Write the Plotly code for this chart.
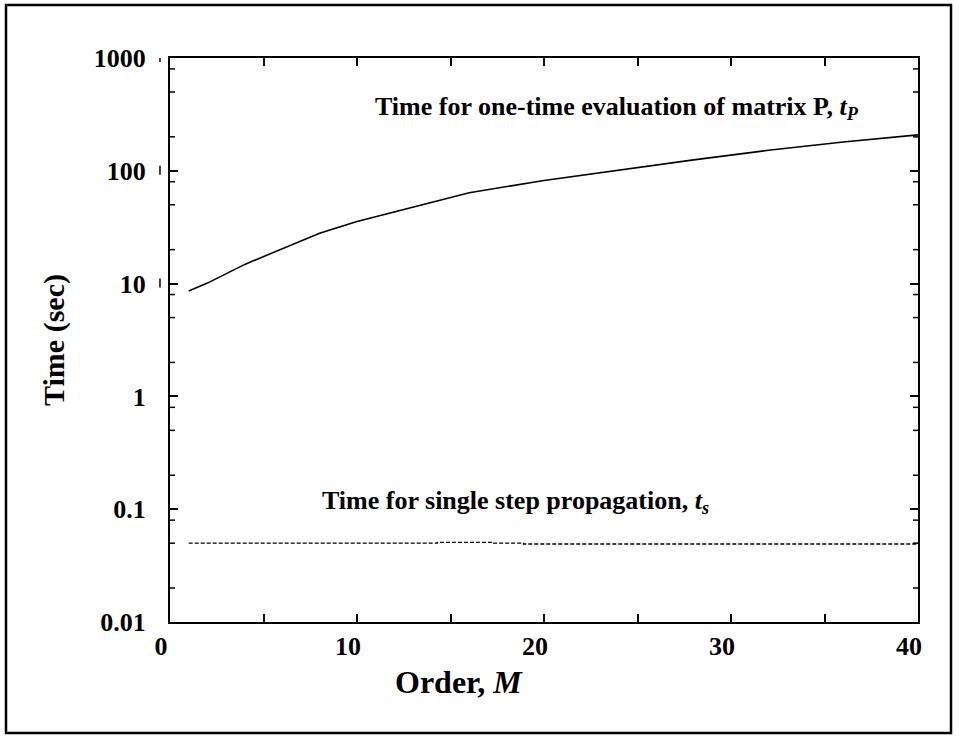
import numpy as np
import plotly.graph_objects as go

# Expansion order M
order_p = [1, 2, 4, 6, 8, 10, 12, 16, 20, 24, 28, 32, 36, 40]
# Time for one-time evaluation of matrix P (sec)
time_p = [8.6, 10.1, 14.8, 20.5, 28.0, 35.5, 43.0, 64.0, 82.0, 102.0, 125.0, 152.0, 180.0, 208.0]

# Time for a single propagation step (sec)
order_s = [1, 14.3, 17.3, 18.9, 40]
time_s = [0.0500, 0.0508, 0.0500, 0.0491, 0.0491]

y_tick_vals = [0.01, 0.1, 1, 10, 100, 1000]
y_tick_text = ["0.01", "0.1", "1", "10", "100", "1000"]
x_tick_vals = [0, 5, 10, 15, 20, 25, 30, 35, 40]
x_tick_text = ["0", "", "10", "", "20", "", "30", "", "40"]

FONT = "Liberation Serif, Times New Roman, serif"

fig = go.Figure()
fig.add_trace(go.Scatter(x=order_p, y=time_p, mode="lines",
                         line=dict(color="black", width=1.6), showlegend=False))
fig.add_trace(go.Scatter(x=order_s, y=time_s, mode="lines", line_shape="hv",
                         line=dict(color="black", width=1.4, dash="4px,2px"),
                         showlegend=False))

fig.update_xaxes(
    range=[0, 40], tickvals=x_tick_vals, ticktext=x_tick_text,
    ticks="inside", ticklen=8, tickwidth=1.5,
    tickcolor="black", showline=True, linecolor="black", linewidth=2, mirror="ticks",
    showgrid=False, zeroline=False,
    tickfont=dict(family=FONT, size=26, color="black", weight="bold"),
    ticklabelshift=-9, ticklabelstandoff=0,
)
fig.update_yaxes(
    type="log", range=[-2, 3], tickvals=y_tick_vals, ticktext=y_tick_text,
    ticks="inside", ticklen=8, tickwidth=1.5, tickcolor="black",
    showline=True, linecolor="black", linewidth=2, mirror="ticks",
    showgrid=False, zeroline=False,
    tickfont=dict(family=FONT, size=26, color="black", weight="bold"),
    ticklabelstandoff=17,
    title=dict(text="<b>Time (sec)</b>", font=dict(family=FONT, size=30, color="black"),
               standoff=20),
)

# minor log ticks at 2, 5 and 8 of every decade, on both sides of the box
minor_y = [m * 10.0 ** e for e in range(-2, 3) for m in (2, 5, 8)]
for v in minor_y:
    for x0, x1 in ((0, 5 / 748), (1 - 5 / 748, 1)):
        fig.add_shape(type="line", xref="paper", yref="y", x0=x0, x1=x1, y0=v, y1=v,
                      line=dict(color="black", width=1.5))

fig.add_annotation(x=10.85, y=np.log10(360), xanchor="left", yanchor="middle",
                   text="<b>Time for one-time evaluation of matrix P, <i>t<sub>P</sub></i></b>",
                   showarrow=False, font=dict(family=FONT, size=26, color="black"))
fig.add_annotation(x=8.0, y=np.log10(0.116), xanchor="left", yanchor="middle",
                   text="<b>Time for single step propagation, <i>t<sub>s</sub></i></b>",
                   showarrow=False, font=dict(family=FONT, size=26, color="black"))

# x-axis title
fig.add_annotation(xref="paper", yref="paper", x=(459 - 170) / 748, y=(622 - 682) / 564,
                   xanchor="center", yanchor="middle", showarrow=False,
                   text="<b>Order, <i>M</i></b>",
                   font=dict(family=FONT, size=32, color="black"))

# small marks beside the upper tick labels
for v in (1000, 100, 10):
    fig.add_shape(type="line", xref="paper", yref="y",
                  x0=-0.0134, x1=-0.0134, y0=v * 10 ** -0.035, y1=v * 10 ** 0.045,
                  line=dict(color="black", width=1.5))

# frame around the whole figure
fig.add_shape(type="rect", xref="paper", yref="paper",
              x0=(6 - 170) / 748, x1=(951 - 170) / 748,
              y0=(622 - 733) / 564, y1=(622 - 5) / 564,
              line=dict(color="black", width=2.5), fillcolor="rgba(0,0,0,0)")

fig.update_layout(
    width=959, height=740, autosize=False,
    margin=dict(l=170, r=41, t=58, b=118),
    paper_bgcolor="white", plot_bgcolor="white",
    font=dict(family=FONT, color="black"),
)

fig.write_html("out.html")
